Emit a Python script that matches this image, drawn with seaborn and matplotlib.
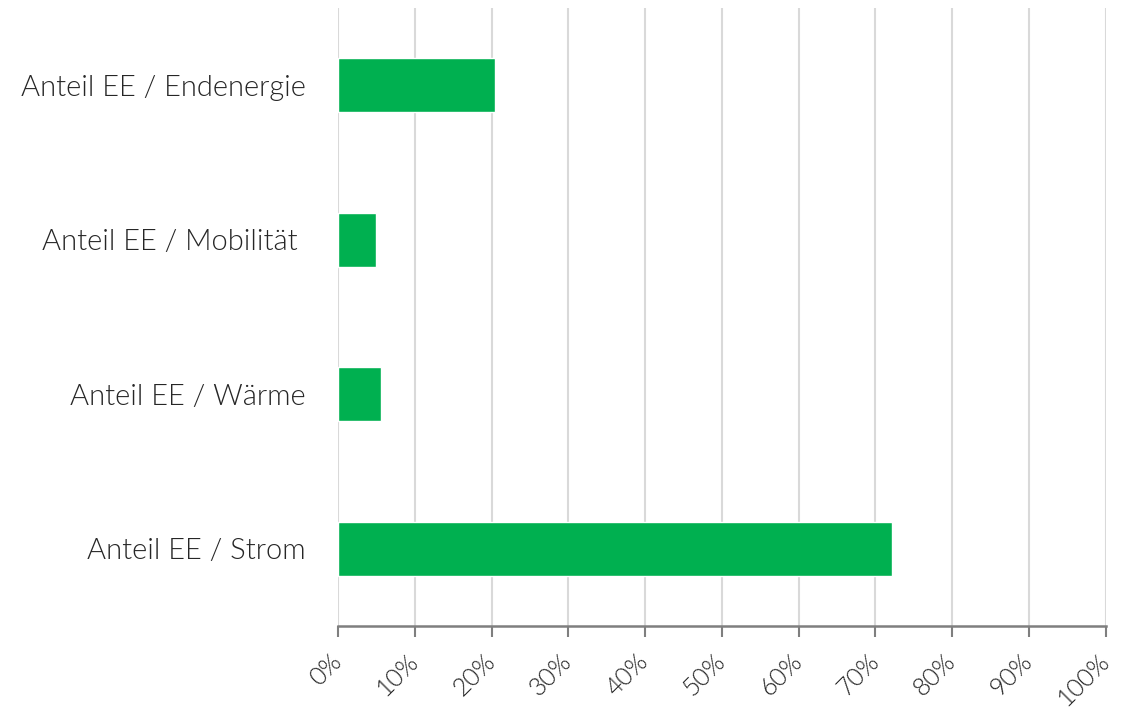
import matplotlib
matplotlib.use("Agg")
import matplotlib.pyplot as plt
import seaborn as sns
import pandas as pd
from matplotlib.ticker import PercentFormatter

categories = [
    "Anteil EE / Endenergie",
    "Anteil EE / Mobilität ",
    "Anteil EE / Wärme",
    "Anteil EE / Strom",
]
shares = [20.4, 4.9, 5.6, 72.1]
tick_values = list(range(0, 101, 10))

BAR_COLOR = "#00B050"
GRID_COLOR = "#D9D9D9"
AXIS_COLOR = "#7F7F7F"
TEXT_COLOR = "#262626"


def plot_shares(df: pd.DataFrame):
    sns.set_style("white")
    plt.rcParams["font.family"] = ["Lato", "DejaVu Sans"]

    fig = plt.figure(figsize=(11.31, 7.19), dpi=100)
    ax = fig.add_axes([0.2989, 0.1293, 0.6787, 0.8596])

    sns.barplot(data=df, x="Share", y="Category", orient="h",
                color=BAR_COLOR, saturation=1, width=0.35, ax=ax)

    ax.set_xlim(0, 100)
    ax.set_ylim(3.5, -0.5)
    ax.set_xticks(tick_values)
    ax.xaxis.set_major_formatter(PercentFormatter(decimals=0))
    ax.set_xlabel("")
    ax.set_ylabel("")

    # vertical gridlines
    ax.grid(axis="x", color=GRID_COLOR, linewidth=1.5)
    ax.grid(axis="y", visible=False)
    ax.set_axisbelow(True)

    for side in ["left", "right", "top"]:
        ax.spines[side].set_visible(False)
    ax.spines["bottom"].set_color(AXIS_COLOR)
    ax.spines["bottom"].set_linewidth(1.8)

    ax.tick_params(axis="x", which="major", bottom=True, length=8, width=1.5,
                   color=AXIS_COLOR, pad=15, labelsize=18, labelcolor=TEXT_COLOR)
    ax.tick_params(axis="y", left=False, pad=20, labelsize=21, labelcolor=TEXT_COLOR)

    for lbl in ax.get_xticklabels():
        lbl.set_rotation(45)
        lbl.set_ha("right")
        lbl.set_va("center")
        lbl.set_rotation_mode("anchor")
        lbl.set_fontweight(300)
        lbl.set_color(TEXT_COLOR)
    for lbl in ax.get_yticklabels():
        lbl.set_fontweight(300)
        lbl.set_color(TEXT_COLOR)

    fig.savefig("out.png", dpi=100, facecolor="white")


def main():
    df = pd.DataFrame({"Category": categories, "Share": shares})
    plot_shares(df)


if __name__ == "__main__":
    main()
